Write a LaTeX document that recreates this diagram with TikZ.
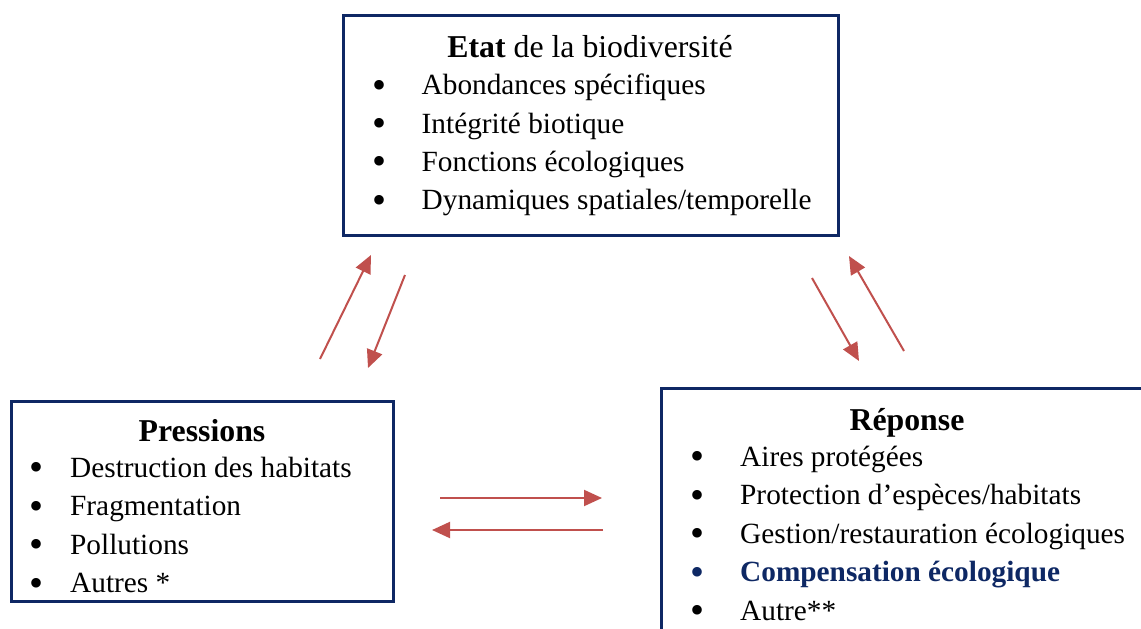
\documentclass[tikz,border=0pt]{standalone}
\usepackage{fontspec}
\setmainfont{Liberation Serif}
\usetikzlibrary{arrows.meta}
\definecolor{navy}{HTML}{0E2864}
\definecolor{arred}{HTML}{C0504D}
\tikzset{
  box/.style={draw=navy, line width=3pt, fill=none, inner sep=0pt, anchor=center},
  hdr/.style={inner sep=0pt, anchor=base, font=\fontsize{31.8}{36}\selectfont},
  item/.style={inner sep=0pt, anchor=base west, font=\fontsize{29.3}{34}\selectfont},
  bul/.style={inner sep=0pt, anchor=base, font=\fontsize{40}{40}\selectfont, yshift=-3.5pt},
  arr/.style={draw=arred, line width=2pt, -{Triangle[length=18pt,width=16pt]}}
}
\begin{document}
\begin{tikzpicture}[x=1pt,y=-1pt]
\useasboundingbox (0,0) rectangle (1141,629);
% boxes
\node[box, minimum width=495pt, minimum height=220pt] (etat) at (590.5,125.5) {};
\node[box, minimum width=382pt, minimum height=200pt] (press) at (202.5,501.5) {};
\node[box, minimum width=508pt, minimum height=272pt] (rep) at (915.5,524) {};
% Etat
\node[hdr] (eh) at (590,57) {\textbf{Etat} de la biodiversité};
\node[bul] (eb1) at (379,94.5) {\textbullet};
\node[bul] (eb2) at (379,133) {\textbullet};
\node[bul] (eb3) at (379,171) {\textbullet};
\node[bul] (eb4) at (379,209.5) {\textbullet};
\node[item] (e1) at (421.5,94.5) {Abondances spécifiques};
\node[item] (e2) at (421.5,133) {Intégrité biotique};
\node[item] (e3) at (421.5,171) {Fonctions écologiques};
\node[item] (e4) at (421.5,209.5) {Dynamiques spatiales/temporelle};
% Pressions
\node[hdr] (ph) at (202,441) {\textbf{Pressions}};
\node[bul] (pb1) at (37,477) {\textbullet};
\node[bul] (pb2) at (37,515.5) {\textbullet};
\node[bul] (pb3) at (37,554) {\textbullet};
\node[bul] (pb4) at (37,592.5) {\textbullet};
\node[item] (p1) at (70,477) {Destruction des habitats};
\node[item] (p2) at (70,515.5) {Fragmentation};
\node[item] (p3) at (70,554) {Pollutions};
\node[item] (p4) at (70,592.5) {Autres *};
% Reponse
\node[hdr] (rh) at (907,430) {\textbf{Réponse}};
\node[bul] (rb1) at (697.5,466) {\textbullet};
\node[bul] (rb2) at (697.5,504.5) {\textbullet};
\node[bul] (rb3) at (697.5,543) {\textbullet};
\node[bul, text=navy] (rb4) at (697.5,581.5) {\textbullet};
\node[bul] (rb5) at (697.5,620) {\textbullet};
\node[item] (r1) at (740,466) {Aires protégées};
\node[item] (r2) at (740,504.5) {Protection d’espèces/habitats};
\node[item] (r3) at (740,543) {Gestion/restauration écologiques};
\node[item, text=navy] (r4) at (740,581.5) {\textbf{Compensation écologique}};
\node[item] (r5) at (740,620) {Autre**};
% arrow end points
\coordinate (a1s) at (320,359);
\coordinate (a1e) at (371,255);
\coordinate (a2s) at (405,275);
\coordinate (a2e) at (368,368);
\coordinate (a3s) at (812,278);
\coordinate (a3e) at (859,361);
\coordinate (a4s) at (904,351);
\coordinate (a4e) at (849,256);
\coordinate (a5s) at (440,498);
\coordinate (a5e) at (602,498);
\coordinate (a6s) at (603,530);
\coordinate (a6e) at (432,530);
\draw[arr] (a1s) -- (a1e);
\draw[arr] (a2s) -- (a2e);
\draw[arr] (a3s) -- (a3e);
\draw[arr] (a4s) -- (a4e);
\draw[arr] (a5s) -- (a5e);
\draw[arr] (a6s) -- (a6e);
\end{tikzpicture}
\end{document}
